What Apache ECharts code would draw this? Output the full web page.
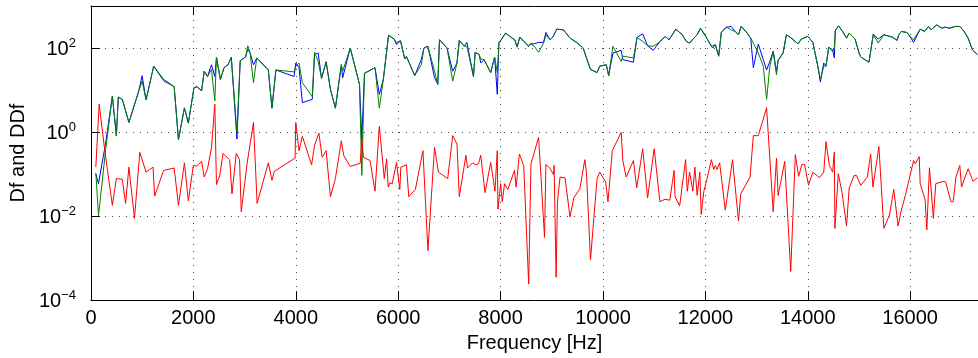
<!DOCTYPE html>
<html><head><meta charset="utf-8">
<script src="https://cdn.jsdelivr.net/npm/echarts@6/dist/echarts.min.js"></script>
<style>html,body{margin:0;padding:0;background:#fff}#c{width:978px;height:358px}</style>
</head><body><div id="c"></div><script>
// Frequency grid for Df (blue) and DDf-companion (green) curves, in Hz
const freqDf = [
 95,147,289,418,496,534,612,741,934,999,
 1076,1225,1418,1625,1709,1825,1902,2012,2077,2160,
 2212,2277,2354,2419,2451,2528,2599,2677,2741,2851,
 2915,3019,3064,3109,3174,3238,3464,3535,3612,3967,
 4000,4064,4129,4322,4367,4438,4503,4593,4677,4774,
 4890,4916,5064,5245,5290,5342,5548,5632,5710,5812,
 5923,5968,6045,6129,6161,6323,6452,6503,6581,6710,
 6774,6807,6955,7065,7149,7194,7291,7342,7471,7504,
 7581,7613,7678,7807,7884,7936,7968,8013,8097,8226,
 8278,8323,8375,8452,8549,8581,8659,8743,8840,8885,
 8969,9020,9098,9227,9356,9485,9614,9678,9756,9885,
 9937,10066,10111,10195,10356,10388,10595,10666,10776,10872,
 10982,11098,11214,11292,11421,11550,11627,11692,11776,11840,
 11905,12002,12099,12144,12195,12260,12311,12408,12505,12583,
 12647,12699,12808,12886,12937,13034,13131,13196,13260,13325,
 13389,13421,13518,13583,13679,13809,13873,14002,14099,14196,
 14247,14312,14357,14409,14486,14518,14538,14602,14680,14757,
 14809,14925,15002,15035,15196,15228,15280,15377,15486,15648,
 15744,15777,15828,15938,16003,16067,16196,16280,16358,16409,
 16519,16616,16680,16777,16874,16970,17054,17132,17216,17312
];
const dfBlue = [
 0.10,0.059,0.57,7.2,0.82,6.8,6.0,1.69,9.5,22,
 5.8,37,17.9,12,0.66,3.76,1.63,11.4,12,9.5,
 28,21,40,21,60,17.9,34,40,60,0.68,
 50,61,95,76,40,58,30,3.7,30,21,
 44,34,5.0,6.0,70,76,18.9,47,10.4,3.7,
 40,19.6,100,13.6,0.68,25,34,7.9,17.9,200,
 163,120,149,55,63,22,53,100,110,19.6,
 13.6,157,100,28,44,152,110,136,21,79,
 70,44,53,26,61,7.9,134,157,226,172,
 157,105,182,144,110,126,126,136,136,235,
 157,182,281,271,172,136,100,58,31,26,
 37,40,22,76,88,53,46,179,218,113,
 88,136,189,157,281,207,144,131,172,207,
 297,195,120,100,120,64,234,313,326,248,
 207,326,234,172,34,124,53,30,48,83,
 28,51,76,207,172,126,163,189,136,37,
 15.5,44,37,104,91,58,263,337,248,172,
 226,163,76,61,46,43,214,163,207,182,
 152,207,248,234,182,136,281,248,326,271,
 355,297,313,297,326,326,248,172,91,70
];
const dfGreen = [
 0.107,0.0102,0.40,7.2,0.80,6.8,6.0,1.69,9.5,16.3,
 5.8,37,16.5,12,0.66,3.76,1.63,11.4,12,9.5,
 28,21,31,5.5,60,17.9,34,40,60,0.98,
 50,61,113,76,14.9,58,30,3.7,30,27,
 37,44,14.9,7.0,79,48,18.9,47,10.4,3.7,
 40,28,100,13.6,0.093,25,34,3.7,17.9,200,
 163,135,149,55,63,22,40,100,110,28,
 13.6,157,100,16.3,44,152,110,110,21,79,
 70,55,53,26,61,26,134,157,226,172,
 157,105,182,144,110,126,110,79,131,207,
 157,182,281,271,172,136,100,58,31,26,
 37,40,22,110,48,64,58,179,144,113,
 110,136,189,157,281,207,144,131,172,207,
 297,195,120,113,120,64,234,313,271,248,
 207,326,234,172,131,76,37,6.0,37,83,
 23,51,76,207,172,126,163,189,136,37,
 17.9,37,37,104,83,100,263,337,248,172,
 226,163,76,61,46,43,214,131,207,182,
 152,207,248,234,182,157,281,248,326,271,
 355,297,313,297,326,326,248,172,91,70
];
// DDf (red)
const freqDdf = [
 95,160,270,418,496,612,676,741,850,954,
 1076,1212,1244,1418,1625,1709,1825,1902,1999,2064,
 2160,2212,2277,2354,2419,2451,2515,2580,2709,2754,
 2838,2902,2935,3051,3083,3174,3245,3464,3535,3580,
 3987,4000,4064,4129,4309,4367,4451,4516,4593,4677,
 4774,4890,4935,5064,5258,5290,5322,5451,5548,5632,
 5729,5774,5806,5839,5884,5968,6032,6052,6161,6207,
 6336,6484,6581,6710,6787,6968,7065,7149,7194,7323,
 7355,7452,7517,7568,7613,7697,7807,7891,7936,7949,
 8001,8033,8078,8142,8271,8304,8368,8452,8549,8594,
 8743,8859,8885,8969,9033,9046,9085,9111,9162,9259,
 9356,9433,9549,9646,9678,9756,9885,9937,10053,10098,
 10182,10356,10388,10453,10595,10659,10776,10872,11001,11111,
 11208,11305,11389,11408,11498,11614,11647,11692,11756,11795,
 11840,11892,11918,11969,12034,12118,12163,12195,12228,12279,
 12389,12531,12647,12692,12873,12937,13034,13196,13325,13389,
 13421,13550,13667,13757,13822,13886,13938,14015,14099,14228,
 14312,14357,14422,14486,14518,14531,14596,14667,14757,14809,
 14906,14951,15035,15164,15228,15273,15389,15486,15596,15680,
 15712,15764,15828,15906,16067,16099,16177,16196,16228,16293,
 16325,16377,16454,16500,16648,16693,16796,16841,16893,16970,
 17003,17132,17229,17312
];
const ddfRed = [
 0.146,4.6,0.36,0.018,0.078,0.075,0.020,0.146,0.0088,0.33,
 0.111,0.146,0.030,0.122,0.139,0.018,0.185,0.023,0.16,0.155,
 0.20,0.085,0.134,0.43,4.6,0.056,0.093,0.31,0.218,0.034,
 0.31,0.22,0.0127,0.185,0.19,1.69,0.020,0.185,0.071,0.116,
 0.24,1.69,0.36,0.79,0.166,0.48,0.95,0.25,0.36,0.029,
 0.078,0.62,0.28,0.152,0.18,0.68,0.25,0.21,0.039,1.36,
 0.078,0.23,0.049,0.062,0.059,0.19,0.043,0.146,0.166,0.029,
 0.043,0.36,0.0015,0.43,0.111,0.078,0.82,0.52,0.029,0.28,
 0.139,0.185,0.166,0.175,0.28,0.036,0.19,0.039,0.36,0.0146,
 0.059,0.022,0.059,0.043,0.122,0.049,0.30,0.16,0.00024,0.175,
 0.75,0.0031,0.17,0.134,0.098,0.16,0.00035,0.022,0.085,0.081,
 0.0096,0.0276,0.045,0.22,0.111,0.00091,0.078,0.111,0.065,0.022,
 0.36,0.98,0.21,0.085,0.21,0.047,0.40,0.027,0.40,0.022,
 0.025,0.024,0.122,0.029,0.0175,0.22,0.039,0.111,0.039,0.146,
 0.031,0.111,0.011,0.038,0.078,0.22,0.129,0.16,0.129,0.185,
 0.0139,0.22,0.0076,0.034,0.085,0.82,0.82,3.8,0.0127,0.24,
 0.031,0.20,0.00048,0.29,0.088,0.17,0.17,0.054,0.111,0.082,
 0.111,0.59,0.16,0.111,0.33,0.0051,0.102,0.038,0.0058,0.047,
 0.093,0.093,0.054,0.085,0.30,0.049,0.45,0.0051,0.0106,0.043,
 0.041,0.0058,0.0139,0.031,0.21,0.175,0.26,0.059,0.061,0.024,
 0.0047,0.141,0.0088,0.059,0.067,0.065,0.022,0.022,0.085,0.16,
 0.049,0.134,0.067,0.081
];
const xTicks = [0,2000,4000,6000,8000,10000,12000,14000,16000];
const xMin = 0, xMax = 17325, xStep = 2000;
const yMin = 1e-4, yMax = 1e3;
const xName = 'Frequency [Hz]';
const yName = 'Df and DDf';

const FONT = '"Liberation Sans", Arial, Helvetica, sans-serif';
const chart = echarts.init(document.getElementById('c'), null, {renderer: 'canvas'});
const pairs = (xs, ys) => xs.map((x, i) => [x, ys[i]]);
const dotted = {color: '#444', width: 1, type: [1, 6]};

const option = {
  animation: false,
  backgroundColor: '#fff',
  grid: {left: 83, right: 0, top: 6, bottom: 56, containLabel: false},
  xAxis: [{
    type: 'value', min: xMin, max: xMax, interval: xStep, position: 'bottom',
    axisLine: {show: true, onZero: false, lineStyle: {color: '#000', width: 1}},
    axisTick: {show: true, inside: true, length: 9, lineStyle: {color: '#000'}},
    axisLabel: {
      show: true, margin: 8, color: '#000', fontSize: 20, fontFamily: FONT,
      showMaxLabel: false,
      formatter: v => xTicks.indexOf(v) >= 0 ? String(v) : ''
    },
    splitLine: {show: true, lineStyle: dotted},
    name: xName, nameLocation: 'middle', nameGap: 32,
    nameTextStyle: {color: '#000', fontSize: 20, fontFamily: FONT}
  }, {
    type: 'value', min: xMin, max: xMax, interval: xStep, position: 'top',
    axisLine: {show: true, onZero: false, lineStyle: {color: '#000', width: 1}},
    axisTick: {show: true, inside: true, length: 9, lineStyle: {color: '#000'}},
    axisLabel: {show: false},
    splitLine: {show: false}
  }],
  yAxis: [{
    type: 'log', logBase: 10, min: yMin, max: yMax, interval: 2,
    axisLine: {show: true, onZero: false, lineStyle: {color: '#000', width: 1}},
    axisTick: {show: true, inside: true, length: 9, lineStyle: {color: '#000'}},
    axisLabel: {
      show: true, margin: 15, color: '#000', fontFamily: FONT,
      formatter: v => {
        const e = Math.round(Math.log10(v));
        if (e % 2 !== 0 || e > 2) return '';
        return '{b|10}{s|' + String(e).replace('-', '\u2212') + '}';
      },
      rich: {
        b: {fontSize: 20, fontFamily: FONT, color: '#000', lineHeight: 22, verticalAlign: 'bottom'},
        s: {fontSize: 13, fontFamily: FONT, color: '#000', lineHeight: 13, verticalAlign: 'top'}
      }
    },
    splitLine: {show: true, lineStyle: dotted},
    name: yName, nameLocation: 'middle', nameGap: 53, nameRotate: 90,
    nameTextStyle: {color: '#000', fontSize: 20, fontFamily: FONT}
  }],
  series: [
    {name: 'Df', type: 'line', xAxisIndex: 0, data: pairs(freqDf, dfBlue), showSymbol: false, symbol: 'none',
     lineStyle: {color: '#0000ff', width: 1}, itemStyle: {color: '#0000ff'}, z: 2},
    {name: 'Df2', type: 'line', xAxisIndex: 0, data: pairs(freqDf, dfGreen), showSymbol: false, symbol: 'none',
     lineStyle: {color: '#008000', width: 1}, itemStyle: {color: '#008000'}, z: 3},
    {name: 'DDf', type: 'line', xAxisIndex: 0, data: pairs(freqDdf, ddfRed), showSymbol: false, symbol: 'none',
     lineStyle: {color: '#ff0000', width: 1}, itemStyle: {color: '#ff0000'}, z: 4}
  ]
};
chart.setOption(option);
</script></body></html>
